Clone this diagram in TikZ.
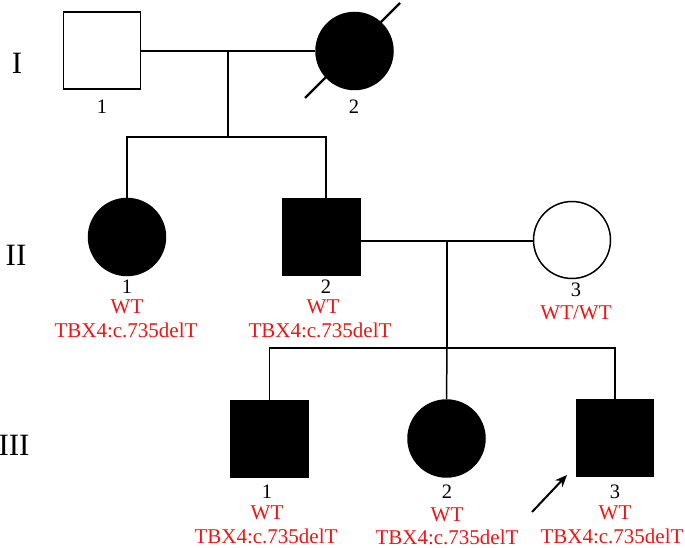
\documentclass[tikz,border=0pt]{standalone}
\usepackage{fontspec}
\setmainfont{Liberation Serif}
\usetikzlibrary{arrows.meta}
\definecolor{gred}{RGB}{240,20,20}
\tikzset{
  male/.style={draw=black, line width=1.5pt, rectangle, minimum size=77pt, inner sep=0pt},
  female/.style={draw=black, line width=1.5pt, circle, minimum size=77pt, inner sep=0pt},
  aff/.style={fill=black},
  num/.style={font=\fontsize{20.5}{20.5}\selectfont, inner sep=0pt},
  geno/.style={font=\fontsize{21}{21}\selectfont, text=gred, inner sep=0pt},
  gen/.style={font=\fontsize{31}{31}\selectfont, inner sep=0pt},
  link/.style={line width=1.5pt}
}
\begin{document}
\begin{tikzpicture}[x=1pt,y=-1pt]
\useasboundingbox (0,0) rectangle (685,548);
% generation labels
\node[gen] (gI) at (17,63) {I};
\node[gen] (gII) at (16,255) {II};
\node[gen] (gIII) at (14,445) {III};
% Generation I
\node[male] (i1) at (102,50.5) {};
\node[female,aff] (i2) at (354.5,51) {};
\node[num] (i1n) at (102,107) {1};
\node[num] (i2n) at (354,107) {2};
\coordinate (dA) at (305,98);
\coordinate (dB) at (400,3);
\draw[line width=2.4pt] (dA) -- (dB);
% Generation II
\node[female,aff] (ii1) at (127,237) {};
\node[male,aff] (ii2) at (321.5,237) {};
\node[female] (ii3) at (572,240) {};
\node[num] (ii1n) at (127,286.5) {1};
\node[num] (ii2n) at (326,286.5) {2};
\node[num] (ii3n) at (576,290) {3};
\node[geno] (ii1w) at (127,306.5) {WT};
\node[geno] (ii2w) at (323,306.5) {WT};
\node[geno] (ii3w) at (576,313) {WT/WT};
\node[geno] (ii1t) at (126,330) {TBX4:c.735delT};
\node[geno] (ii2t) at (320,330) {TBX4:c.735delT};
% Generation III
\node[male,aff] (iii1) at (269.5,439) {};
\node[female,aff] (iii2) at (446.5,438.5) {};
\node[male,aff] (iii3) at (615,438) {};
\node[num] (iii1n) at (267,491.5) {1};
\node[num] (iii2n) at (447,491.5) {2};
\node[num] (iii3n) at (615,491.5) {3};
\node[geno] (iii1w) at (267,513) {WT};
\node[geno] (iii2w) at (447,515) {WT};
\node[geno] (iii3w) at (615,513) {WT};
\node[geno] (iii1t) at (266,536) {TBX4:c.735delT};
\node[geno] (iii2t) at (447,537) {TBX4:c.735delT};
\node[geno] (iii3t) at (612,536) {TBX4:c.735delT};
% connectors generation I -> II
\coordinate (m1) at (228,51);
\coordinate (s1) at (228,137);
\coordinate (s1a) at (127,137);
\coordinate (s1b) at (326,137);
\draw[link] (i1.east |- m1) -- (i2.west |- m1);
\draw[link] (m1) -- (s1);
\draw[link] (ii1.north) -- (s1a) -- (s1b) -- (s1b |- ii2.north);
% connectors generation II -> III
\coordinate (m2) at (447,241);
\coordinate (s2) at (447,348);
\coordinate (s2a) at (269.5,348);
\coordinate (s2b) at (615,348);
\draw[link] (ii2.east |- m2) -- (ii3.west |- m2);
\draw[link] (m2) -- (s2);
\draw[link] (iii1.north) -- (s2a) -- (s2b) -- (iii3.north);
\draw[link] (s2) -- (iii2.north);
% proband arrow
\coordinate (arT) at (532,512);
\coordinate (arH) at (567,475);
\draw[line width=2pt, -{Stealth[length=12pt,width=10pt]}] (arT) -- (arH);
\end{tikzpicture}
\end{document}
